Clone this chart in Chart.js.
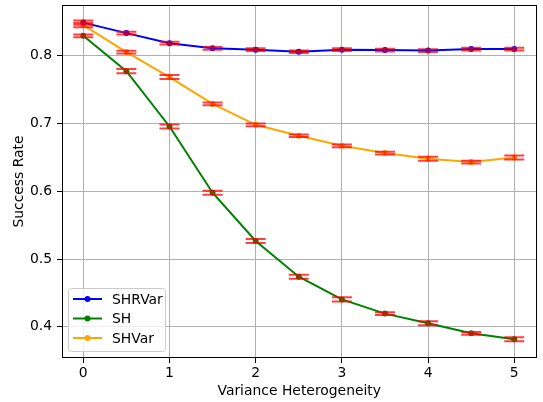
<!DOCTYPE html>
<html>
<head>
<meta charset="utf-8">
<script src="https://cdn.jsdelivr.net/npm/chart.js@4/dist/chart.umd.min.js"></script>
<style>
  html, body { margin: 0; padding: 0; background: #fff; }
</style>
</head>
<body>
<canvas id="chart" width="543" height="402"></canvas>
<script>
// data
const xValues = [0, 0.5, 1, 1.5, 2, 2.5, 3, 3.5, 4, 4.5, 5];
const shrVar = [0.849, 0.8335, 0.8187, 0.811, 0.809, 0.806, 0.809, 0.8084, 0.8078, 0.8099, 0.810];
const sh = [0.8295, 0.7774, 0.6957, 0.598, 0.5267, 0.474, 0.4405, 0.4195, 0.4052, 0.3904, 0.3816];
const shVar = [0.8453, 0.8055, 0.7686, 0.729, 0.6982, 0.682, 0.6672, 0.6565, 0.648, 0.6432, 0.650];
const shrVarErr = [0.003, 0.002, 0.002, 0.002, 0.002, 0.002, 0.002, 0.002, 0.002, 0.002, 0.002];
const shErr = [0.002, 0.003, 0.003, 0.003, 0.003, 0.003, 0.003, 0.002, 0.003, 0.002, 0.003];
const shVarErr = [0.003, 0.002, 0.003, 0.002, 0.002, 0.002, 0.002, 0.002, 0.003, 0.002, 0.003];
const xTicks = [0, 1, 2, 3, 4, 5];
const yTicks = [0.4, 0.5, 0.6, 0.7, 0.8];

const FONT = 'DejaVu Sans';

function toPoints(ys) {
    return xValues.map((x, i) => ({ x: x, y: ys[i] }));
}

function series(label, ys, errs, color) {
    return {
        label: label,
        data: toPoints(ys),
        errors: errs,
        borderColor: color,
        backgroundColor: color,
        borderWidth: 2,
        pointRadius: 3,
        pointBorderWidth: 0,
        pointHoverRadius: 3,
        tension: 0,
        fill: false
    };
}

// red error bars with caps, drawn on top of the lines
const errorBars = {
    id: 'errorBars',
    afterDatasetsDraw(chart) {
        const ctx = chart.ctx;
        const xs = chart.scales.x, ys = chart.scales.y;
        ctx.save();
        ctx.strokeStyle = 'rgba(255,0,0,0.75)';
        ctx.lineWidth = 2;
        chart.data.datasets.forEach(ds => {
            ds.data.forEach((p, i) => {
                const e = ds.errors[i];
                const px = xs.getPixelForValue(p.x);
                const top = ys.getPixelForValue(p.y + e);
                const bot = ys.getPixelForValue(p.y - e);
                ctx.beginPath();
                ctx.moveTo(px, top); ctx.lineTo(px, bot);
                ctx.moveTo(px - 10, top); ctx.lineTo(px + 10, top);
                ctx.moveTo(px - 10, bot); ctx.lineTo(px + 10, bot);
                ctx.stroke();
            });
        });
        ctx.restore();
    }
};

// axes frame + matplotlib style legend box
const frameAndLegend = {
    id: 'frameAndLegend',
    afterDraw(chart) {
        const ctx = chart.ctx;
        const a = chart.chartArea;
        ctx.save();
        ctx.strokeStyle = '#000';
        ctx.lineWidth = 1;
        ctx.strokeRect(Math.round(a.left) + 0.5, Math.round(a.top) + 0.5,
            Math.round(a.right - a.left) - 1, Math.round(a.bottom - a.top) - 1);

        const bx = a.left + 6, by = a.bottom - 70, bw = 97, bh = 63;
        ctx.fillStyle = 'rgba(255,255,255,0.8)';
        ctx.strokeStyle = '#cccccc';
        ctx.beginPath();
        ctx.roundRect(bx + 0.5, by + 0.5, bw, bh, 3);
        ctx.fill();
        ctx.stroke();

        ctx.font = '13.9px ' + FONT;
        ctx.textBaseline = 'middle';
        chart.data.datasets.forEach((ds, i) => {
            const ly = by + 11 + i * 19.5;
            ctx.strokeStyle = ds.borderColor;
            ctx.lineWidth = 2;
            ctx.beginPath();
            ctx.moveTo(bx + 5, ly); ctx.lineTo(bx + 34, ly);
            ctx.stroke();
            ctx.fillStyle = ds.borderColor;
            ctx.beginPath();
            ctx.arc(bx + 19.5, ly, 3, 0, Math.PI * 2);
            ctx.fill();
            ctx.fillStyle = '#000';
            ctx.fillText(ds.label, bx + 44, ly + 1);
        });
        ctx.restore();
    }
};

new Chart(document.getElementById('chart'), {
    type: 'line',
    data: {
        datasets: [
            series('SHRVar', shrVar, shrVarErr, 'blue'),
            series('SH', sh, shErr, 'green'),
            series('SHVar', shVar, shVarErr, 'orange')
        ]
    },
    options: {
        responsive: false,
        animation: false,
        layout: { padding: { top: 5, right: 6.5, left: 0, bottom: 0 } },
        plugins: {
            legend: { display: false },
            tooltip: { enabled: false }
        },
        scales: {
            x: {
                type: 'linear',
                min: -0.247,
                max: 5.258,
                afterBuildTicks: s => { s.ticks = xTicks.map(v => ({ value: v })); },
                afterFit: s => { s.height = 44; s.paddingLeft = 0; s.paddingRight = 0; },
                ticks: { color: '#000', font: { family: FONT, size: 13.9 }, padding: 2, maxRotation: 0, callback: v => String(v) },
                grid: { color: '#b0b0b0', lineWidth: 1, tickLength: 5, tickColor: '#000' },
                border: { display: false },
                title: { display: true, text: 'Variance Heterogeneity', color: '#000', font: { family: FONT, size: 13.9 }, padding: { top: 0, bottom: 2 } }
            },
            y: {
                type: 'linear',
                min: 0.354,
                max: 0.875,
                afterBuildTicks: s => { s.ticks = yTicks.map(v => ({ value: v })); },
                afterFit: s => { s.width = 62; s.paddingTop = 0; s.paddingBottom = 0; },
                ticks: { color: '#000', font: { family: FONT, size: 13.9 }, padding: 5, callback: v => v.toFixed(1) },
                grid: { color: '#b0b0b0', lineWidth: 1, tickLength: 5, tickColor: '#000' },
                border: { display: false },
                title: { display: true, text: 'Success Rate', color: '#000', font: { family: FONT, size: 13.9 }, padding: { top: 11, bottom: 0 } }
            }
        }
    },
    plugins: [errorBars, frameAndLegend]
});
</script>
</body>
</html>
